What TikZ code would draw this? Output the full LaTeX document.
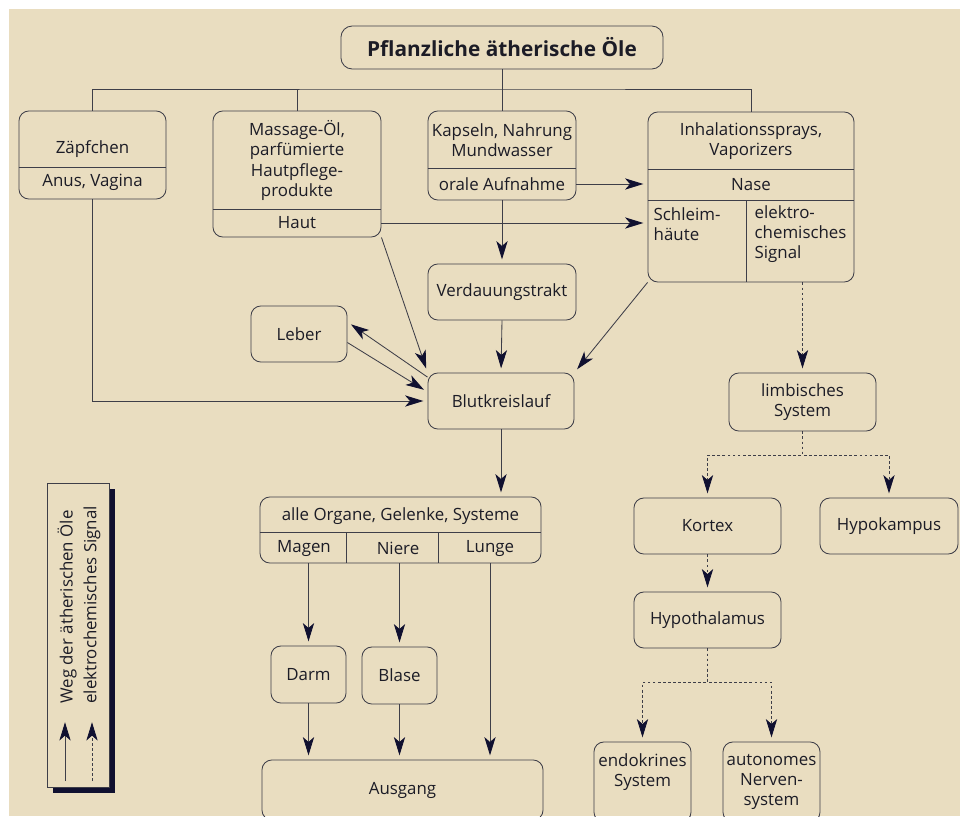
\documentclass[tikz,border=0pt]{standalone}
\usepackage{fontspec}
\setmainfont{Open Sans}
\usetikzlibrary{arrows.meta}
\definecolor{paper}{RGB}{233,221,192}
\definecolor{edge}{RGB}{62,62,72}
\definecolor{tipc}{RGB}{16,16,48}
\definecolor{ink}{RGB}{28,28,38}

\begin{document}
\begin{tikzpicture}[x=0.025cm, y=-0.025cm,
    every node/.style={font=\fontsize{12}{14.3}\selectfont, text=ink},
    panel/.style={rectangle, draw=edge, line width=0.6pt, rounded corners=7pt,
        inner sep=0pt, align=center},
    headbox/.style={panel, rounded corners=8pt,
        font=\fontsize{14.8}{18}\selectfont\bfseries},
    txt/.style={inner sep=1pt, align=center},
    conn/.style={draw=edge, line width=0.6pt},
    arrow/.style={conn, -{Stealth[length=13pt, width=8pt, inset=3.5pt, color=tipc]},
        shorten >=3pt},
    sigarrow/.style={arrow, dash pattern=on 2pt off 1.6pt}
  ]
  % Papier
  \useasboundingbox (0,0) rectangle (960,816);
  \fill[white] (0,0) rectangle (960,816);
  \fill[paper] (9,9) rectangle (960,816);
  \clip (0,0) rectangle (960,816);

  \node[headbox, minimum width=8.05cm, minimum height=1.075cm]
  (oele) at (502,47.5) {Pflanzliche ätherische Öle};

  % Anwendungen
  \node[panel, minimum width=3.675cm, minimum height=2.2cm] (zaepf) at (92.5,155) {};
  \draw[conn] (zaepf.west |- 0,167) -- (zaepf.east |- 0,167);
  \node[txt] (zaepft) at (92.5,149) {Zäpfchen};
  \node[txt] (anus) at (92.5,182) {Anus, Vagina};

  \node[panel, minimum width=4.2cm, minimum height=3.15cm] (massage) at (297,174) {};
  \draw[conn] (massage.west |- 0,209) -- (massage.east |- 0,209);
  \node[txt] (massaget) at (297,160.5) {Massage-Öl,\\parfümierte\\Hautpflege-\\produkte};
  \node[txt] (haut) at (297,223) {Haut};

  \node[panel, minimum width=3.7cm, minimum height=2.225cm] (kapseln) at (502,155.5) {};
  \draw[conn] (kapseln.west |- 0,168) -- (kapseln.east |- 0,168);
  \node[txt] (kapselnt) at (502,140) {Kapseln, Nahrung\\Mundwasser};
  \node[txt] (orale) at (502,184) {orale Aufnahme};

  \node[panel, minimum width=5.15cm, minimum height=4.25cm] (inhal) at (751,197) {};
  \draw[conn] (inhal.west |- 0,169) -- (inhal.east |- 0,169);
  \draw[conn] (inhal.west |- 0,200) -- (inhal.east |- 0,200);
  \draw[conn] (746,200) -- (746,200 |- inhal.south);
  \node[txt] (inhalt) at (751,141) {Inhalationssprays,\\Vaporizers};
  \node[txt] (nase) at (751,184.5) {Nase};
  \node[txt, align=left, anchor=west] (schleim) at (652,224) {Schleim-\\häute};
  \node[txt, align=left, anchor=west] (elektro) at (753,234) {elektro-\\chemisches\\Signal};

  \coordinate (bus) at (502,89);
  \draw[conn] (oele.south) -- (bus);
  \draw[conn] (zaepf.north) |- (bus) -| (inhal.north);
  \draw[conn] (massage.north) -- (massage.north |- bus);
  \draw[conn] (kapseln.north) -- (kapseln.north |- bus);

  % Kreislauf
  \node[panel, minimum width=3.7cm, minimum height=1.4cm] (verdau) at (502,292) {Verdauungstrakt};
  \node[panel, minimum width=2.4cm, minimum height=1.4cm] (leber) at (299,334) {Leber};
  \node[panel, minimum width=3.65cm, minimum height=1.4cm] (blut) at (501,401) {Blutkreislauf};

  \draw[arrow] (kapseln.east |- orale) -- (inhal.west |- orale);
  \draw[arrow] (massage.east |- haut) -- (inhal.west |- haut);
  \draw[arrow] (kapseln.south) -- (verdau.north);
  \draw[arrow] (verdau.south) -- (blut.north);
  \draw[arrow] (inhal.south west) -- (blut.north east);
  \draw[arrow] (massage.south east) -- (blut.north west);
  \draw[arrow] (blut.162) -- (leber.14);
  \draw[arrow] (leber.-10) -- (blut.173);
  \draw[arrow] (zaepf.south) |- (blut.west);

  % Organe
  \node[panel, minimum width=7.025cm, minimum height=1.65cm] (organe) at (400.5,530) {};
  \draw[conn] (organe.west |- 0,532) -- (organe.east |- 0,532);
  \draw[conn] (346,532) -- (346,532 |- organe.south);
  \draw[conn] (438,532) -- (438,532 |- organe.south);
  \node[txt] (alle) at (400.5,516) {alle Organe, Gelenke, Systeme};
  \node[txt] (magen) at (304,548) {Magen};
  \node[txt] (niere) at (398,548) {Niere};
  \node[txt] (lunge) at (490,548) {Lunge};

  \node[panel, minimum width=1.875cm, minimum height=1.425cm] (darm) at (308.5,674.5) {Darm};
  \node[panel, minimum width=1.875cm, minimum height=1.425cm] (blase) at (399.5,675.5) {Blase};
  \node[panel, minimum width=7.025cm, minimum height=1.5cm] (ausgang) at (402.5,790) {Ausgang};

  \draw[arrow] (blut.south) -- (blut.south |- organe.north);
  \draw[arrow] (darm.north |- organe.south) -- (darm.north);
  \draw[arrow] (blase.north |- organe.south) -- (blase.north);
  \draw[arrow] (darm.south) -- (darm.south |- ausgang.north);
  \draw[arrow] (blase.south) -- (blase.south |- ausgang.north);
  \draw[arrow] (lunge |- organe.south) -- (lunge |- ausgang.north);

  % Nervensystem
  \node[panel, minimum width=3.675cm, minimum height=1.45cm] (limb) at (802.5,402) {limbisches\\System};
  \node[panel, minimum width=3.675cm, minimum height=1.4cm] (kortex) at (707.5,526) {Kortex};
  \node[panel, minimum width=3.45cm, minimum height=1.4cm] (hypok) at (889,526) {Hypokampus};
  \node[panel, minimum width=3.675cm, minimum height=1.4cm] (hypoth) at (707.5,620) {Hypothalamus};
  \node[panel, minimum width=2.425cm, minimum height=2cm] (endo) at (642.5,782) {};
  \node[txt] (endot) at (642.5,772) {endokrines\\System};
  \node[panel, minimum width=2.425cm, minimum height=2cm] (auton) at (771.5,782) {autonomes\\Nerven-\\system};

  \draw[sigarrow] (limb.north |- inhal.south) -- (limb.north);
  \draw[sigarrow] (limb.south) -- ++(0,24) -| (kortex.north);
  \draw[sigarrow] (limb.south) -- ++(0,24) -| (hypok.north);
  \draw[sigarrow] (kortex.south) -- (hypoth.north);
  \draw[sigarrow] (hypoth.south) -- ++(0,34) -| (endo.north);
  \draw[sigarrow] (hypoth.south) -- ++(0,34) -| (auton.north);

  % Legende
  \node[fill=tipc, minimum width=1.55cm, minimum height=7.6cm, inner sep=0pt] (legshadow) at (84,641) {};
  \node[draw=edge, fill=paper, line width=0.6pt, minimum width=1.55cm, minimum height=7.6cm,
    inner sep=0pt] (legend) at (78,635) {};
  \node[rotate=90, anchor=west, inner sep=0pt] (legweg) at (67,704) {Weg der ätherischen Öle};
  \node[rotate=90, anchor=west, inner sep=0pt] (legsig) at (92,704) {elektrochemisches Signal};
  \coordinate (legw0) at (65,781);
  \coordinate (legw1) at (65,718);
  \coordinate (legs0) at (92,781);
  \coordinate (legs1) at (92,718);
  \draw[arrow] (legw0) -- (legw1);
  \draw[sigarrow] (legs0) -- (legs1);
\end{tikzpicture}
\end{document}
